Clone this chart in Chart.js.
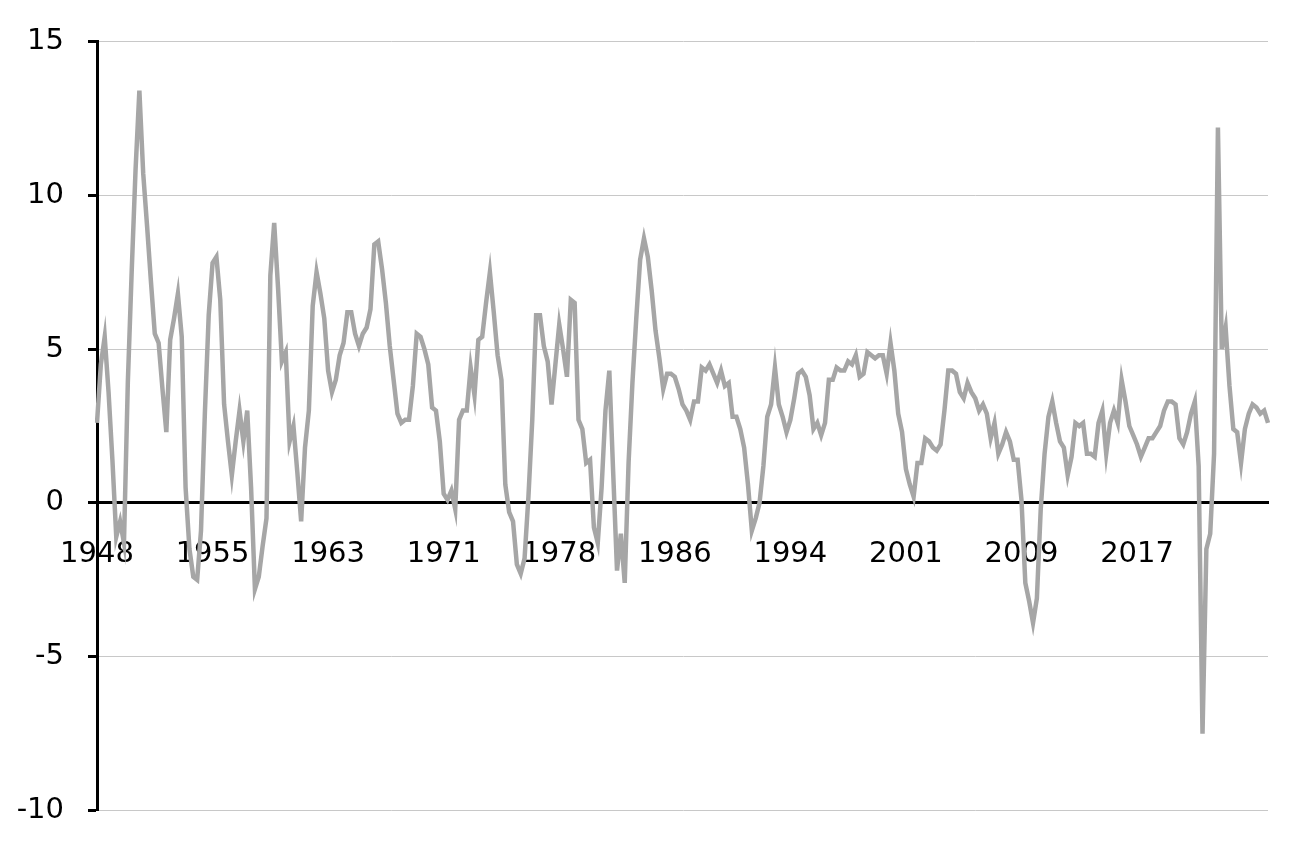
<!DOCTYPE html>
<html><head><meta charset="utf-8">
<script src="https://cdn.jsdelivr.net/npm/chart.js@4"></script>
<style>html,body{margin:0;padding:0;background:#fff}#wrap{width:1302px;height:852px}</style>
</head><body><div id="wrap"><canvas id="c"></canvas></div>
<script>
const startYear = 1948;
const tickLabels = ['1948','1955','1963','1971','1978','1986','1994','2001','2009','2017'];
const tickEvery = 30;
const growth = [
2.6,4.5,5.4,3.6, 1.4,-1.1,-0.6,-1.3, 3.9,7.5,10.8,13.4, 10.7,9.0,7.2,5.5,
5.2,3.7,2.3,5.3, 6.0,6.8,5.4,0.5, -1.5,-2.4,-2.5,-0.9, 2.9,6.1,7.8,8.0,
6.6,3.2,2.0,0.9, 2.0,3.0,2.0,3.0, 0.5,-2.8,-2.4,-1.4, -0.5,7.4,9.1,7.0,
4.6,4.9,2.0,2.5, 1.0,-0.6,1.8,3.0, 6.4,7.5,6.8,6.0, 4.3,3.6,4.0,4.8,
5.2,6.2,6.2,5.5, 5.1,5.5,5.7,6.3, 8.4,8.5,7.6,6.5, 5.1,4.0,2.9,2.6,
2.7,2.7,3.8,5.5, 5.4,5.0,4.5,3.1, 3.0,2.0,0.3,0.1, 0.4,-0.2,2.7,3.0,
3.0,4.4,3.5,5.3, 5.4,6.5,7.5,6.2, 4.8,4.0,0.6,-0.3, -0.6,-2.0,-2.3,-1.8,
0.2,2.7,6.1,6.1, 5.1,4.6,3.2,4.5,
5.8,5.0,4.1,6.6,6.5,2.7,2.4,1.3,1.4,-0.8,-1.3,0.5,3.0,4.3,1.0,-2.2,-1.0,-2.6,1.3,3.9,6.0,7.9,8.6,8.0,6.9,5.6,4.7,3.7,4.2,4.2,
4.1,3.7,3.2,3.0,2.7,3.3,3.3,4.4,4.3,4.5,4.2,3.9,4.3,3.8,3.9,2.8,2.8,2.4,1.8,0.6,-0.9,-0.5,0.0,1.2,2.8,3.2,4.4,3.2,2.8,2.3,
2.7,3.4,4.2,4.3,4.1,3.5,2.4,2.6,2.2,2.6,4.0,4.0,4.4,4.3,4.3,4.6,4.5,4.8,4.1,4.2,4.9,4.8,4.7,4.8,4.8,4.2,5.2,4.3,2.9,2.3,
1.1,0.6,0.2,1.3,1.3,2.1,2.0,1.8,1.7,1.9,3.0,4.3,4.3,4.2,3.6,3.4,3.9,3.6,3.4,3.0,3.2,2.9,2.1,2.6,1.6,1.9,2.3,2.0,1.4,1.4,
0.1,-2.6,-3.2,-3.9,-3.1,-0.2,1.6,2.8,3.3,2.6,2.0,1.8,0.9,1.5,2.6,2.5,2.6,1.6,1.6,1.5,2.6,3.0,1.6,2.6,3.0,2.6,4.0,3.3,2.5,2.2,
1.9,1.5,1.8,2.1,2.1,2.3,2.5,3.0,3.3,3.3,3.2,2.1,1.9,2.3,2.9,3.3,1.2,-7.5,-1.5,-1.0,1.6,12.2,5.0,5.7,3.8,2.4,2.3,1.3,2.4,2.9,
3.2,3.1,2.9,3.0,2.6
];
const categories = growth.map((_, i) => (startYear + Math.floor(i/4)) + 'Q' + (i%4+1));
const font = {family: "'DejaVu Sans', sans-serif", size: 29};
new Chart(document.getElementById('c'), {
  type: 'line',
  data: {labels: categories, datasets: [{data: growth, borderColor: '#a6a6a6', borderWidth: 4.5, pointRadius: 0, tension: 0, fill: false}]},
  options: {
    responsive: true, maintainAspectRatio: false, animation: false,
    layout: {padding: {top: -2, right: -12, left: 0, bottom: -8}},
    plugins: {legend: {display: false}, tooltip: {enabled: false}},
    scales: {
      x: {
        position: {y: 0}, offset: false,
        grid: {display: false, drawTicks: false},
        border: {color: '#000', width: 3},
        ticks: {autoSkip: false, maxRotation: 0, color: '#000', font: font, padding: 34,
          callback: (v, i) => i % tickEvery === 0 ? (tickLabels[i / tickEvery] || '') : ''}
      },
      y: {
        min: -10, max: 15,
        afterFit: s => { s.width = 97; },
        ticks: {stepSize: 5, color: '#000', font: font, padding: 24},
        grid: {color: '#c8c8c8', lineWidth: 1, tickLength: 9, tickColor: '#000', tickWidth: 3},
        border: {color: '#000', width: 3}
      }
    }
  }
});
</script></body></html>
